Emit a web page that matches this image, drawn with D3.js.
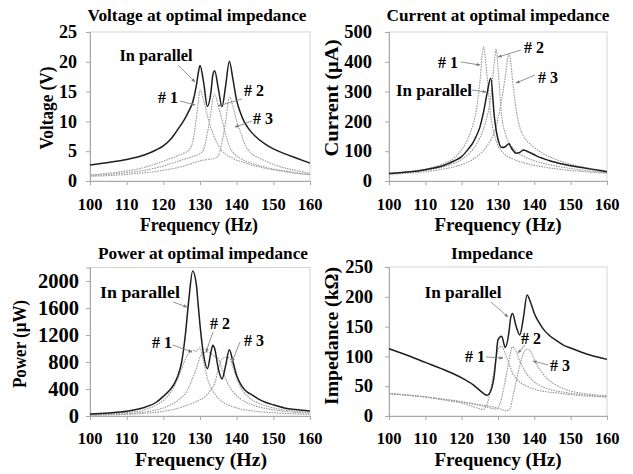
<!DOCTYPE html>
<html><head><meta charset="utf-8">
<script src="https://cdn.jsdelivr.net/npm/d3@7/dist/d3.min.js"></script>
<style>
body{margin:0;background:#fff}
svg text{font-family:"Liberation Serif","Times New Roman",Times,serif;font-weight:bold;fill:#000}
</style>
</head><body>
<svg id="c" width="633" height="474" font-family="Liberation Serif, Times New Roman, serif"></svg>
<script>
// ---- data ----
const freq = [100,105,110,115,118,120,122,123,124,125,126,127,128,129,129.5,130,131,132,133,133.5,134,135,136,137,138,139,140,141,142,143,144,146,148,150,153,156,160];

const voltParallel = [2.7,3.1,3.6,4.4,5.2,5.9,7.0,7.8,8.7,9.6,10.6,11.8,13.2,16.0,18.0,19.4,16.5,12.5,15.0,17.8,18.5,15.5,12.5,16.0,20.1,17.0,13.5,11.5,10.0,9.0,8.2,7.0,6.1,5.4,4.6,3.9,3.0];
const volt1 = [1.0,1.3,1.7,2.3,2.9,3.3,3.8,4.0,4.3,4.5,4.8,5.2,6.5,10.5,13.0,15.3,13.5,11.0,8.8,8.0,7.2,6.0,5.1,4.5,4.1,3.8,3.5,3.3,3.1,2.9,2.7,2.4,2.1,1.9,1.6,1.3,1.1];
const volt2 = [0.9,1.1,1.4,1.8,2.2,2.5,2.9,3.1,3.3,3.5,3.7,3.9,4.1,4.3,4.4,4.6,5.3,8.0,11.5,13.8,14.6,12.5,10.3,7.8,5.8,4.8,4.2,3.8,3.5,3.2,3.0,2.6,2.3,2.0,1.7,1.4,1.1];
const volt3 = [0.8,0.9,1.1,1.4,1.6,1.8,2.0,2.1,2.3,2.4,2.6,2.8,3.0,3.2,3.3,3.4,3.5,3.6,3.7,3.7,3.8,4.2,6.5,10.0,14.1,12.5,10.0,8.3,6.5,5.3,4.6,3.9,3.3,2.8,2.2,1.8,1.3];

const currParallel = [25,30,38,52,68,82,110,126,150,180,230,295,345,215,170,140,112,115,125,115,105,93,96,104,100,94,88,82,77,73,69,62,56,51,45,39,31];
const curr1 = [24,30,40,58,78,105,150,185,235,330,450,350,220,155,135,118,100,88,80,77,74,69,65,61,58,55,52,50,48,46,44,41,38,35,32,29,26];
const curr2 = [24,29,36,48,60,72,92,105,122,145,175,215,280,400,443,380,220,160,130,120,112,100,90,83,77,72,68,64,61,58,55,50,46,42,37,33,28];
const curr3 = [22,26,31,40,48,55,65,72,80,90,102,118,138,165,185,210,270,350,427,400,340,240,180,150,135,122,112,103,95,88,82,72,63,56,48,41,33];

const powParallel = [30,45,70,130,200,290,400,480,600,800,1200,1750,2150,1950,1650,1350,900,700,950,1050,1000,700,550,750,980,800,600,480,400,350,320,250,200,165,120,95,75];
const pow1 = [20,30,50,95,160,230,350,440,560,700,840,930,975,960,990,1010,800,560,420,370,330,260,215,180,155,135,120,105,95,85,78,65,55,47,38,31,25];
const pow2 = [15,22,35,60,90,120,165,195,230,280,330,430,560,700,790,870,930,950,920,900,880,850,700,550,440,360,300,255,220,190,170,135,110,90,70,54,42];
const pow3 = [12,17,25,40,55,70,90,100,115,130,150,170,190,210,225,240,270,320,390,430,480,700,840,870,860,720,560,430,350,290,245,190,150,120,90,70,55];

const impParallel = [113,102,90,78,70,64,57,53,48,43,38,35,42,70,100,128,134,115,140,165,172,150,136,165,203,190,172,160,150,142,136,127,119,114,107,101,95];
const imp1 = [38,35,32,27,24,22,18,16,14,12,11,20,45,80,98,112,117,104,88,80,72,63,57,53,50,47,45,43,42,41,40,39,37,36,34,33,32];
const imp2 = [38,35,32,28,25,23,21,20,19,18,16,15,13,12,11,14,30,60,92,108,116,108,92,80,70,63,57,53,50,47,45,42,40,38,36,34,32];
const imp3 = [37,35,32,28,26,24,22,21,20,19,18,17,16,15,14,13,11,9,10,15,30,58,85,105,112,108,95,83,74,66,60,52,46,42,38,36,34];

const xTicks = [100,110,120,130,140,150,160];
const voltTicks = [0,5,10,15,20,25];
const currTicks = [0,100,200,300,400,500];
const powTicks = [0,400,800,1200,1600,2000];
const impTicks = [0,50,100,150,200,250];

const seriesNames = ["In parallel","# 1","# 2","# 3"];

// ---- drawing ----
const svg = d3.select("#c");
svg.append("rect").attr("width",633).attr("height",474).attr("fill","#fff");
const defs = svg.append("defs");
defs.append("marker").attr("id","ah").attr("viewBox","0 0 10 10").attr("refX",9).attr("refY",5)
  .attr("markerWidth",5).attr("markerHeight",5).attr("orient","auto")
  .append("path").attr("d","M0,1 L10,5 L0,9 z").attr("fill","#777");

function txt(g,x,y,s,size,anchor,len,rot){
  const t=g.append("text").attr("x",x).attr("y",y).attr("font-size",size)
    .attr("text-anchor",anchor||"middle").text(s);
  if(len){t.attr("textLength",len).attr("lengthAdjust","spacingAndGlyphs");}
  if(rot){t.attr("transform",`rotate(${rot},${x},${y})`);}
  return t;
}

function panel(cfg){
  const g = svg.append("g");
  const x = d3.scaleLinear().domain([100,160]).range([cfg.x0,cfg.x1]);
  const y = d3.scaleLinear().domain([0,cfg.ymax]).range([cfg.yb,cfg.yt]);
  g.append("rect").attr("x",cfg.x0).attr("y",cfg.yt).attr("width",cfg.x1-cfg.x0).attr("height",cfg.yb-cfg.yt)
    .attr("fill","none").attr("stroke","#d4d4d4").attr("stroke-width",1);
  g.append("g").attr("transform",`translate(0,${cfg.yb})`)
    .call(d3.axisBottom(x).tickValues(xTicks).tickSize(4).tickFormat(""));
  g.append("g").attr("transform",`translate(${cfg.x0},0)`)
    .call(d3.axisLeft(y).tickValues(cfg.ticks).tickSize(4).tickFormat(""));
  g.selectAll(".domain").attr("stroke","#a8a8a8");
  g.selectAll(".tick line").attr("stroke","#a8a8a8");
  xTicks.forEach(v=>txt(g,x(v),cfg.xlabY,String(v),16.5,"middle"));
  cfg.ticks.forEach(v=>txt(g,cfg.ylabX,y(v)+cfg.ys*0.34,String(v),cfg.ys,"end"));
  txt(g,cfg.tx,cfg.ty,cfg.title,16,"middle",cfg.tlen);
  txt(g,cfg.fx,cfg.fy,"Frequency (Hz)",19,"middle",cfg.flen);
  txt(g,cfg.yx,cfg.yy,cfg.ylabel,18,"middle",cfg.ylen,-90);
  const line = d3.line().x((d,i)=>x(freq[i])).y(d=>y(d)).curve(d3.curveMonotoneX);
  cfg.data.slice(1).forEach(arr=>{
    g.append("path").attr("d",line(arr)).attr("fill","none").attr("stroke","#9a9a9a")
      .attr("stroke-width",1.1).attr("stroke-dasharray","1.6,1");
  });
  g.append("path").attr("d",line(cfg.data[0])).attr("fill","none").attr("stroke","#1e1e1e").attr("stroke-width",1.5);
  cfg.ann.forEach((a,i)=>{
    txt(g,a.tx,a.ty,seriesNames[i],16,"middle",i===0?a.len:20);
    g.append("line").attr("x1",a.ax1).attr("y1",a.ay1).attr("x2",a.ax2).attr("y2",a.ay2)
      .attr("stroke","#777").attr("stroke-width",0.8).attr("marker-end","url(#ah)");
  });
}

panel({x0:90,x1:310,yt:32,yb:181,ymax:25,ticks:voltTicks,xlabY:210,ylabX:77,ys:18,
  title:"Voltage at optimal impedance",tx:197,ty:21,tlen:219,
  fx:199,fy:231,flen:118,ylabel:"Voltage (V)",yx:53,yy:108,ylen:83,
  data:[voltParallel,volt1,volt2,volt3],
  ann:[{tx:156,ty:61,len:73,ax1:178,ay1:65,ax2:195,ay2:82},
       {tx:168,ty:103,ax1:180,ay1:101,ax2:195,ay2:105},
       {tx:254,ty:96,ax1:242,ay1:99,ax2:218,ay2:106},
       {tx:263,ty:124,ax1:252,ay1:121,ax2:235,ay2:127}]});

panel({x0:389,x1:607,yt:32,yb:181,ymax:500,ticks:currTicks,xlabY:210,ylabX:372,ys:18.5,
  title:"Current at optimal impedance",tx:498,ty:21,tlen:223,
  fx:498,fy:231,flen:127,ylabel:"Current (μA)",yx:338,yy:98,ylen:117,
  data:[currParallel,curr1,curr2,curr3],
  ann:[{tx:434,ty:96,len:76,ax1:472,ay1:90,ax2:486,ay2:92},
       {tx:448,ty:68,ax1:461,ay1:62,ax2:480,ay2:65},
       {tx:534,ty:53,ax1:521,ay1:50,ax2:498,ay2:57},
       {tx:548,ty:83,ax1:535,ay1:75,ax2:516,ay2:83}]});

panel({x0:90,x1:310,yt:267.5,yb:416,ymax:2200,ticks:powTicks,xlabY:444,ylabX:79,ys:20.5,
  title:"Power at optimal impedance",tx:203,ty:259,tlen:210,
  fx:201,fy:466,flen:132,ylabel:"Power (μW)",yx:26,yy:344,ylen:88,
  data:[powParallel,pow1,pow2,pow3],
  ann:[{tx:140,ty:298,len:80,ax1:173,ay1:302,ax2:187,ay2:307},
       {tx:162,ty:348,ax1:173,ay1:345,ax2:192,ay2:352},
       {tx:220,ty:329,ax1:213,ay1:332,ax2:206,ay2:352},
       {tx:254,ty:346,ax1:240,ay1:342,ax2:232,ay2:362}]});

panel({x0:389,x1:607,yt:267,yb:416,ymax:250,ticks:impTicks,xlabY:444,ylabX:373,ys:18.5,
  title:"Impedance",tx:492,ty:259,tlen:82,
  fx:498,fy:466,flen:127,ylabel:"Impedance (kΩ)",yx:338,yy:336,ylen:138,
  data:[impParallel,imp1,imp2,imp3],
  ann:[{tx:463,ty:298,len:77,ax1:491,ay1:302,ax2:508,ay2:317},
       {tx:475,ty:362,ax1:486,ay1:357,ax2:503,ay2:358},
       {tx:531,ty:344,ax1:525,ay1:345,ax2:518,ay2:353},
       {tx:560,ty:371,ax1:548,ay1:365,ax2:533,ay2:361}]});
</script>
</body></html>
